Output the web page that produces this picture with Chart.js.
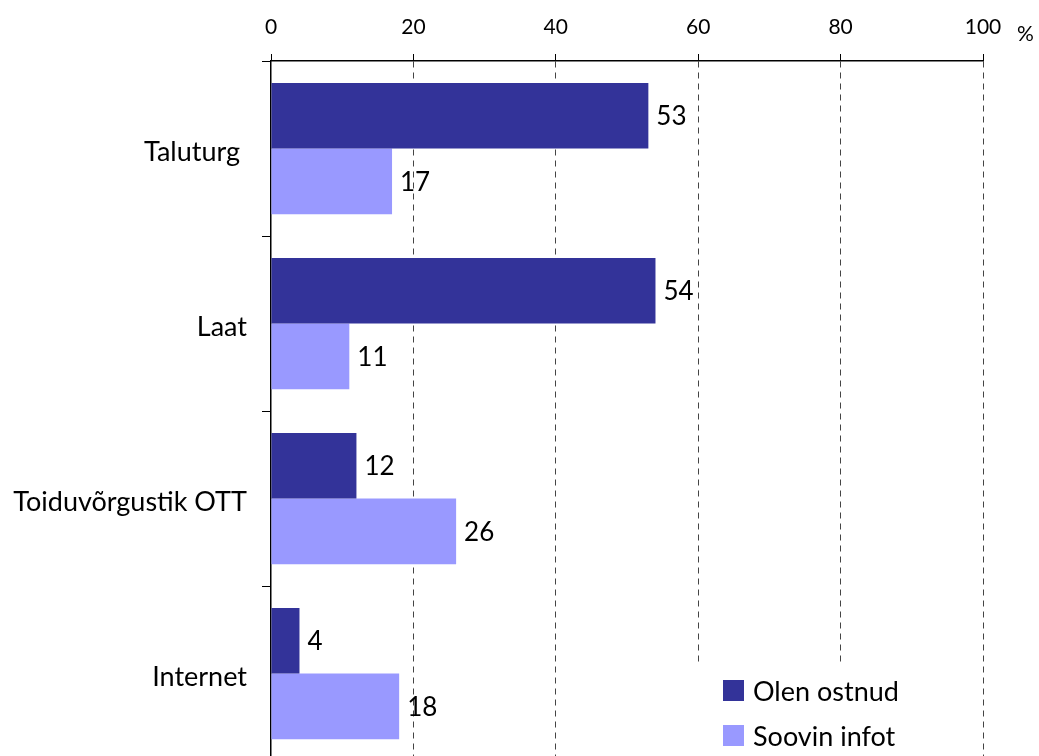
<!DOCTYPE html>
<html>
<head>
<meta charset="utf-8">
<script src="https://cdn.jsdelivr.net/npm/chart.js@4"></script>
<style>
  html, body { margin: 0; padding: 0; background: #fff; overflow: hidden; }
</style>
</head>
<body>
<canvas id="myBarChart" width="1039" height="800"></canvas>
<script>
    // kategooriad ja väärtused (%)
    var categories = ["Taluturg ", "Laat", "Toiduvõrgustik OTT", "Internet"];
    var olenOstnud = [53, 54, 12, 4];
    var soovinInfot = [17, 11, 26, 18];
    var seriesNames = ["Olen ostnud", "Soovin infot"];
    var xTicks = [0, 20, 40, 60, 80, 100];

    var FONT = "Lato";

    // väärtused tulpade kõrvale
    var valueLabels = {
        id: 'valueLabels',
        afterDatasetsDraw: function(chart){
            var ctx = chart.ctx;
            ctx.save();
            ctx.font = "26px " + FONT;
            ctx.fillStyle = "#000";
            ctx.textAlign = "left";
            ctx.textBaseline = "middle";
            chart.data.datasets.forEach(function(ds, i){
                chart.getDatasetMeta(i).data.forEach(function(bar, j){
                    ctx.fillText(String(ds.data[j]), bar.x + 8, bar.y + 1);
                });
            });
            ctx.restore();
        }
    };

    // legend valge taustaga graafiku sees + "%"
    var boxLegend = {
        id: 'boxLegend',
        afterDraw: function(chart){
            var ctx = chart.ctx;
            var area = chart.chartArea;
            var x0 = area.right - 293;
            var y0 = area.bottom - 97;
            ctx.save();
            ctx.fillStyle = "#fff";
            ctx.fillRect(x0, y0, 262, 140);
            ctx.font = "27px " + FONT;
            ctx.textBaseline = "middle";
            chart.data.datasets.forEach(function(ds, i){
                var yy = y0 + 27 + i * 45;
                ctx.fillStyle = ds.backgroundColor;
                ctx.fillRect(x0 + 33, yy - 11, 21, 21);
                ctx.fillStyle = "#000";
                ctx.fillText(ds.label, x0 + 63, yy + 1);
            });
            var xs = chart.scales.x;
            ctx.font = "21px " + FONT;
            ctx.textAlign = "left";
            ctx.fillText("%", xs.getPixelForValue(100) + 34, 34);
            ctx.restore();
        }
    };

    var ctx = document.getElementById("myBarChart");
    var myBarChart = new Chart(ctx, {
        type: 'bar',
        data: {
            labels: categories,
            datasets: [{
                label: seriesNames[0],
                data: olenOstnud,
                backgroundColor: "#333399"
            },{
                label: seriesNames[1],
                data: soovinInfot,
                backgroundColor: "#9999FF"
            }]
        },
        options: {
            indexAxis: 'y',
            responsive: false,
            animation: false,
            layout: { padding: { left: 0, right: 56, top: 0, bottom: 39 } },
            categoryPercentage: 0.75,
            barPercentage: 1.0,
            plugins: {
                legend: { display: false },
                tooltip: { enabled: false }
            },
            scales: {
                x: {
                    position: 'top',
                    min: 0,
                    max: 100,
                    afterBuildTicks: function(scale){
                        scale.ticks = xTicks.map(function(v){ return { value: v }; });
                    },
                    afterFit: function(scale){ scale.height = 61; },
                    ticks: {
                        color: "#000",
                        font: { family: FONT, size: 21 },
                        padding: 14
                    },
                    grid: {
                        color: function(c){ return c.tick && c.tick.value === 0 ? "rgba(0,0,0,0)" : "#444"; },
                        lineWidth: 1,
                        tickLength: 7,
                        tickColor: "#000",
                        tickBorderDash: []
                    },
                    border: {
                        display: true,
                        color: "#000",
                        width: 1.5,
                        dash: [6, 5]
                    }
                },
                y: {
                    afterFit: function(scale){ scale.width = 271; },
                    ticks: {
                        color: "#000",
                        font: { family: FONT, size: 27 },
                        padding: 15,
                        labelOffset: 4
                    },
                    grid: {
                        offset: true,
                        drawOnChartArea: false,
                        tickLength: 9,
                        color: "#000"
                    },
                    border: {
                        display: true,
                        color: "#000",
                        width: 1.5
                    }
                }
            }
        },
        plugins: [valueLabels, boxLegend]
    });
</script>
</body>
</html>
